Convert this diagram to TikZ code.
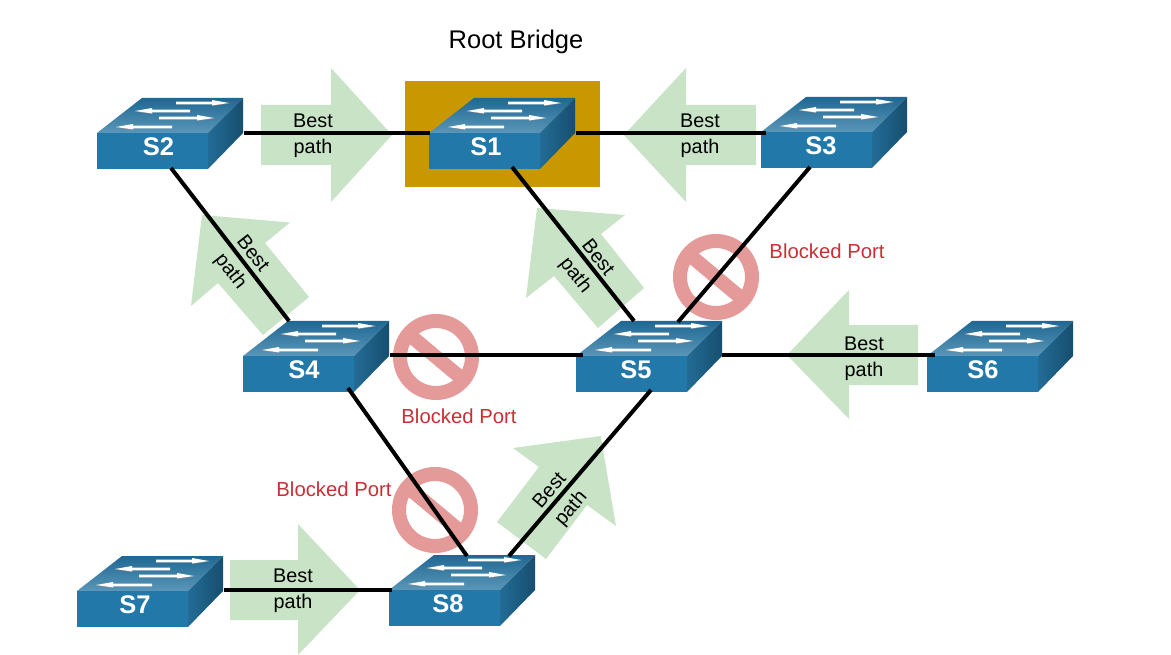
\documentclass[tikz,border=0pt]{standalone}
\usepackage{fontspec}
\setmainfont{Liberation Sans}
\usetikzlibrary{calc}
\definecolor{rootbox}{RGB}{201,151,0}
\definecolor{pathgreen}{RGB}{200,227,198}
\definecolor{signred}{RGB}{229,154,154}
\definecolor{portred}{RGB}{200,48,54}
\definecolor{swfront}{RGB}{34,121,169}
\definecolor{swtopback}{RGB}{31,104,147}
\definecolor{swtopfront}{RGB}{90,150,184}
\definecolor{swsideleft}{RGB}{35,108,150}
\definecolor{swsideright}{RGB}{22,78,110}
\tikzset{
  link/.style={draw=black,line width=4pt},
  pathshape/.style={fill=pathgreen,draw=none},
  swface/.style={fill=swfront,draw=none,minimum width=111pt,minimum height=36pt,inner sep=0pt,outer sep=0pt,anchor=north west},
  swname/.style={text=white,font=\fontsize{25.5}{28}\selectfont\bfseries,inner sep=0pt},
  bestlabel/.style={align=center,inner sep=0pt,font=\fontsize{19.8}{26}\selectfont,text=black},
  bestrot/.style={align=center,inner sep=0pt,font=\fontsize{19.8}{28}\selectfont,text=black},
  portlabel/.style={inner sep=0pt,font=\fontsize{20.3}{24}\selectfont,text=portred},
  ringline/.style={draw=signred,line width=14pt},
  slashline/.style={draw=signred,line width=14pt}
}
\newcommand{\swflowR}[3]{%
  \fill[black!45] (#1,#3+1.2) -- (#2-18,#3+1.2) -- (#2-18,#3+3) -- (#2,#3+0.4) -- cycle;
  \fill[white] (#1,#3-1.3) -- (#2-18,#3-1.3) -- (#2-18,#3-3) -- (#2-1,#3) -- (#2-18,#3+2.4) -- (#2-18,#3+1.3) -- (#1,#3+1.3) -- cycle;
}
\newcommand{\swflowL}[3]{%
  \fill[black!45] (#2,#3+1.2) -- (#1+18,#3+1.2) -- (#1+18,#3+3) -- (#1,#3+0.4) -- cycle;
  \fill[white] (#2,#3-1.3) -- (#1+18,#3-1.3) -- (#1+18,#3-3) -- (#1+1,#3) -- (#1+18,#3+2.4) -- (#1+18,#3+1.3) -- (#2,#3+1.3) -- cycle;
}
\newcommand{\swdev}[4]{%
  \begin{scope}[shift={(#2,#3)}]
    \shade[top color=swtopback,bottom color=swtopfront] (0,0) -- (45,-35) -- (146,-35) -- (111,0) -- cycle;
    \shade[left color=swsideleft,right color=swsideright] (111,0) -- (146,-35) -- (146,0) -- (111,36) -- cycle;
    \node[swface] (#1) at (0,0) {};
    \swflowR{79}{133}{-30}
    \swflowL{37}{93}{-22}
    \swflowR{62}{118}{-15}
    \swflowL{18}{75}{-6}
    \node[swname] (#1t) at (#4,13.5) {#1};
  \end{scope}
}
\newcommand{\blocksign}[3]{%
  \coordinate (#1) at (#2,#3);
  \draw[ringline] (#1) circle (36pt);
  \draw[slashline] ($(#1)+(-27.6,-23.1)$) -- ($(#1)+(27.6,23.1)$);
}
\begin{document}
\begin{tikzpicture}[x=1pt,y=-1pt]
  \useasboundingbox (0,0) rectangle (1171,655);
  \fill[white] (0,0) rectangle (1171,655);
  \fill[rootbox] (405,81) rectangle (600,187);

  % green arrows
  \fill[pathshape] (261,105) -- (331,105) -- (331,68) -- (392,135) -- (331,202) -- (331,165) -- (261,165) -- cycle;
  \fill[pathshape] (756,105) -- (686,105) -- (686,68) -- (624,135) -- (686,202) -- (686,165) -- (756,165) -- cycle;
  \fill[pathshape] (918,325) -- (849,325) -- (849,290) -- (787,355) -- (849,419) -- (849,385) -- (918,385) -- cycle;
  \fill[pathshape] (230,560) -- (298,560) -- (298,524) -- (360,590) -- (298,655) -- (298,620) -- (230,620) -- cycle;
  \fill[pathshape] (202,215) -- (290,222.5) -- (265,243) -- (309,297) -- (263,335) -- (218,283) -- (191,306) -- cycle;
  \fill[pathshape] (537,208) -- (625,215) -- (601,234) -- (644,288) -- (598,328) -- (554,276) -- (526,298) -- cycle;
  \fill[pathshape] (600.7,436) -- (513,448) -- (539,467) -- (497,522) -- (546,559) -- (587,505) -- (616,526) -- cycle;

  % blocked signs
  \blocksign{signA}{436}{357}
  \blocksign{signB}{716}{277}
  \blocksign{signC}{435}{510}

  % switches
  \swdev{S2}{97}{133}{61.5}
  \swdev{S1}{429}{133}{57}
  \swdev{S3}{761}{132}{60}
  \swdev{S4}{243}{356}{61}
  \swdev{S5}{576}{356}{60}
  \swdev{S6}{927}{356}{56}
  \swdev{S7}{77}{591}{58}
  \swdev{S8}{389}{590}{59}

  % connectors
  \draw[link] ($(S2.north west)+(147,0)$) -- ($(S1.north west)+(1,0)$);
  \draw[link] ($(S1.north west)+(147,0)$) -- ($(S3.north west)+(5,1)$);
  \draw[link] ($(S2.north west)+(74,35)$) -- ($(S4.north west)+(46,-35)$);
  \draw[link] ($(S1.north west)+(83,34)$) -- ($(S5.north west)+(58,-35)$);
  \draw[link] ($(S3.north west)+(49,35)$) -- ($(S5.north west)+(102,-34)$);
  \draw[link] ($(S4.north west)+(147,-1)$) -- ($(S5.north west)+(7,-1)$);
  \draw[link] ($(S5.north west)+(146,-1)$) -- ($(S6.north west)+(8,-1)$);
  \draw[link] ($(S4.north west)+(105,32)$) -- ($(S8.north west)+(78,-34)$);
  \draw[link] ($(S5.north west)+(75,34)$) -- ($(S8.north west)+(120,-34)$);
  \draw[link] ($(S7.north west)+(147,-1)$) -- ($(S8.north west)+(3,0)$);

  % labels
  \node[inner sep=0pt,font=\fontsize{25.5}{30}\selectfont] (root) at (516,42) {Root Bridge};
  \node[bestlabel] (bp1) at (313,136) {Best\\path};
  \node[bestlabel] (bp2) at (700,136) {Best\\path};
  \node[bestlabel] (bp3) at (864,359) {Best\\path};
  \node[bestlabel] (bp4) at (293,591) {Best\\path};
  \node[bestrot,rotate=-52] (bp5) at (241,263) {Best\\path};
  \node[bestrot,rotate=-52] (bp6) at (586,267) {Best\\path};
  \node[bestrot,rotate=49.5] (bp7) at (561,500) {Best\\path};
  \node[portlabel] (bl1) at (827,251.5) {Blocked Port};
  \node[portlabel] (bl2) at (459,416.5) {Blocked Port};
  \node[portlabel] (bl3) at (334,489) {Blocked Port};
\end{tikzpicture}
\end{document}
